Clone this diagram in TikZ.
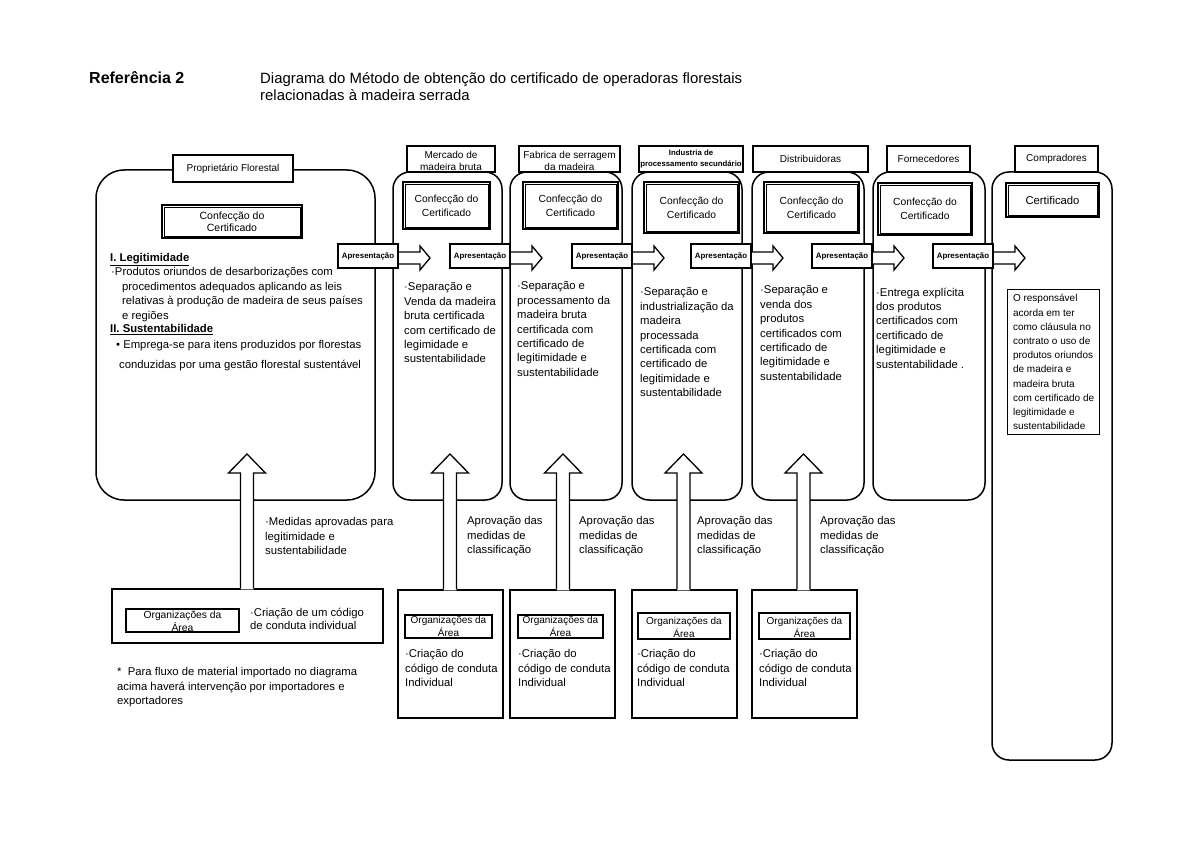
\documentclass[tikz,border=0pt]{standalone}
\usepackage{fontspec}
\setmainfont{Liberation Sans}
\usetikzlibrary{positioning}

\begin{document}
\begin{tikzpicture}[
x=1pt, y=-1pt,
colbox/.style={rectangle, draw, line width=1.5pt, rounded corners=17pt},
tagbox/.style={rectangle, draw, line width=1.1pt, fill=white, inner sep=0pt, minimum height=26pt, align=center, font=\fontsize{10}{12.5}\selectfont},
tagtext/.style={anchor=south, inner sep=0pt, yshift=1.5pt, align=center, font=\fontsize{10}{12.5}\selectfont},
certbox/.style={rectangle, draw, line width=1.8pt, fill=white, inner sep=0pt, align=center, font=\fontsize{10.3}{14}\selectfont},
txt/.style={anchor=north west, inner sep=0pt, align=left, font=\fontsize{11.3}{14.4}\selectfont},
rowtext/.style={anchor=west, inner sep=0pt, text height=8pt, text depth=2.5pt, font=\fontsize{11.3}{14}\selectfont},
lowbox/.style={rectangle, draw, line width=1.1pt},
orgbox/.style={rectangle, draw, line width=1.1pt, inner sep=0pt},
orgtext/.style={anchor=south, inner sep=0pt, yshift=2pt, align=center, font=\fontsize{10}{13}\selectfont},
presbox/.style={rectangle, draw, line width=1.1pt, fill=white, inner sep=0pt, minimum width=60pt, minimum height=24pt, font=\bfseries\fontsize{7.9}{9}\selectfont},
hollow/.style={draw, fill=white, line width=1.3pt, line join=miter}
]

\useasboundingbox (0,0) rectangle (1200,848);

% title
\node[anchor=base west, inner sep=0pt, font=\bfseries\fontsize{16}{19}\selectfont] (ref) at (89,84) {Referência 2};
\node[anchor=base west, inner sep=0pt, font=\fontsize{14.9}{17}\selectfont] (tit1) at (260,84) {Diagrama do Método de obtenção do certificado de operadoras florestais};
\node[anchor=base west, inner sep=0pt, font=\fontsize{14.9}{17}\selectfont] (tit2) at (260,101) {relacionadas à madeira serrada};

% columns
\node[colbox, rounded corners=28pt, minimum width=279pt, minimum height=330pt] (col1) at (235.5,335) {};
\node[colbox, minimum width=109pt, minimum height=328pt] (col2) at (447.5,336) {};
\node[colbox, minimum width=112pt, minimum height=328pt] (col3) at (566,336) {};
\node[colbox, minimum width=110pt, minimum height=328pt] (col4) at (687,336) {};
\node[colbox, minimum width=112pt, minimum height=328pt] (col5) at (808,336) {};
\node[colbox, minimum width=112pt, minimum height=328pt] (col6) at (929,336) {};
\node[colbox, minimum width=120pt, minimum height=588pt] (col7) at (1052,466) {};

% column titles
\node[tagbox, minimum width=120pt, minimum height=27pt] (tag1) at (233,168.5) {Proprietário Florestal};
\node[tagbox, minimum width=88pt] (tag2) at (451,159) {};
\node[tagtext] at (tag2.south) {Mercado de\\madeira bruta};
\node[tagbox, minimum width=101pt] (tag3) at (569.5,159) {};
\node[tagtext] at (tag3.south) {Fabrica de serragem\\da madeira};
\node[tagbox, minimum width=104pt] (tag4) at (691,159) {};
\node[tagtext, font=\bfseries\fontsize{7.8}{11}\selectfont, yshift=3pt] at (tag4.south) {Industria de\\processamento secundário};
\node[tagbox, minimum width=115pt] (tag5) at (810.5,159) {Distribuidoras};
\node[tagbox, minimum width=83pt] (tag6) at (928.5,159) {Fornecedores};
\node[tagbox, minimum width=83pt] (tag7) at (1056.5,159) {Compradores};

% certificates
\node[certbox, minimum width=140pt, minimum height=33pt, font=\fontsize{10.5}{12}\selectfont] (cert1) at (232,221.5) {Confecção do\\Certificado};
\node[certbox, minimum width=87pt, minimum height=47pt] (cert2) at (446.5,205.5) {Confecção do\\Certificado};
\node[certbox, minimum width=95pt, minimum height=47pt] (cert3) at (570.5,205.5) {Confecção do\\Certificado};
\node[certbox, minimum width=95pt, minimum height=51pt] (cert4) at (691.5,207.5) {Confecção do\\Certificado};
\node[certbox, minimum width=95pt, minimum height=51pt] (cert5) at (811.5,207.5) {Confecção do\\Certificado};
\node[certbox, minimum width=94pt, minimum height=52pt] (cert6) at (925,209) {Confecção do\\Certificado};
\node[certbox, minimum width=93pt, minimum height=34pt, font=\fontsize{11.3}{14}\selectfont] (cert7) at (1052.5,200) {Certificado};
\foreach \i in {1,...,7}
  \draw[line width=0.7pt] ([shift={(3,3)}]cert\i.north west) rectangle ([shift={(-3,-3)}]cert\i.south east);

% owner text
\node[rowtext, font=\bfseries\fontsize{11.3}{14}\selectfont] (leg) at (110,259) {\underline{I. Legitimidade}};
\node[rowtext] (leg1) at (111,273) {·Produtos oriundos de desarborizações com};
\node[rowtext] (leg2) at (122,288) {procedimentos adequados aplicando as leis};
\node[rowtext] (leg3) at (122,302) {relativas à produção de madeira de seus países};
\node[rowtext] (leg4) at (122,317) {e regiões};
\node[rowtext, font=\bfseries\fontsize{11.3}{14}\selectfont] (sus) at (110,330) {\underline{II. Sustentabilidade}};
\node[rowtext] (sus1) at (116,346) {• Emprega-se para itens produzidos por florestas};
\node[rowtext] (sus2) at (119,366) {conduzidas por uma gestão florestal sustentável};

% column text
\node[txt] (txt2) at (404,282.5) {·Separação e\\Venda da madeira\\bruta certificada\\com certificado de\\legimidade e\\sustentabilidade};
\node[txt] (txt3) at (517,281.5) {·Separação e\\processamento da\\madeira bruta\\certificada com\\certificado de\\legitimidade e\\sustentabilidade};
\node[txt] (txt4) at (640,287.5) {·Separação e\\industrialização da\\madeira\\processada\\certificada com\\certificado de\\legitimidade e\\sustentabilidade};
\node[txt] (txt5) at (760,285.5) {·Separação e\\venda dos\\produtos\\certificados com\\certificado de\\legitimidade e\\sustentabilidade};
\node[txt] (txt6) at (876,287.5) {·Entrega explícita\\dos produtos\\certificados com\\certificado de\\legitimidade e\\sustentabilidade .};
\node[draw, line width=1.1pt, anchor=north west, inner xsep=5.5pt, inner ysep=5pt, align=left, font=\fontsize{10}{14.2}\selectfont] (resp) at (1007,289) {O responsável\\acorda em ter\\como cláusula no\\contrato o uso de\\produtos oriundos\\de madeira e\\madeira bruta\\com certificado de\\legitimidade e\\sustentabilidade};

% presentation arrows
\foreach \l [count=\i] in {338,450,572,691,812,933}{
  \draw[hollow] (\l+58,252) -- (\l+82,252) -- (\l+82,246) -- (\l+92,258) -- (\l+82,270) -- (\l+82,264) -- (\l+58,264);
  \node[presbox] (pres\i) at (\l+30,256) {Apresentação};
}

% area organisations
\node[lowbox, minimum width=271pt, minimum height=54pt] (low1) at (247.5,616) {};
\node[lowbox, minimum width=105pt, minimum height=128pt] (low2) at (450.5,654) {};
\node[lowbox, minimum width=105pt, minimum height=128pt] (low3) at (562.5,654) {};
\node[lowbox, minimum width=105pt, minimum height=128pt] (low4) at (684.5,654) {};
\node[lowbox, minimum width=105pt, minimum height=128pt] (low5) at (804.5,654) {};

\node[orgbox, minimum width=113pt, minimum height=23pt] (org1) at (182.5,620.5) {};
\node[orgbox, minimum width=87pt, minimum height=23pt] (org2) at (448.5,626.5) {};
\node[orgbox, minimum width=85pt, minimum height=23pt] (org3) at (560.5,626.5) {};
\node[orgbox, minimum width=92pt, minimum height=26pt] (org4) at (684,626) {};
\node[orgbox, minimum width=91pt, minimum height=26pt] (org5) at (804.5,626) {};
\node[orgtext, font=\fontsize{10.3}{13}\selectfont, yshift=-1pt] at (org1.south) {Organizações da\\Área};
\foreach \i in {2,...,5}
  \node[orgtext] at (org\i.south) {Organizações da\\Área};

\node[txt, font=\fontsize{11.3}{13.3}\selectfont] (crt1) at (250,607.5) {·Criação de um código\\de conduta individual};
\node[txt] (crt2) at (405,649.5) {·Criação do\\código de conduta\\Individual};
\node[txt] (crt3) at (518,649.5) {·Criação do\\código de conduta\\Individual};
\node[txt] (crt4) at (637,649.5) {·Criação do\\código de conduta\\Individual};
\node[txt] (crt5) at (759,649.5) {·Criação do\\código de conduta\\Individual};

% approval arrows
\foreach \x [count=\i] in {247,450,563,683.5,803.5}{
  \fill[white] (\x-6.5,0 |- low\i.north) ++(0,0.8) -- (\x-6.5,473) -- (\x-18.5,473) -- (\x,454) -- (\x+18.5,473) -- (\x+6.5,473) -- (\x+6.5,0 |- low\i.north) -- ++(0,0.8) -- cycle;
  \draw[line width=1.3pt, line join=miter] (\x-6.5,0 |- low\i.north) -- (\x-6.5,473) -- (\x-18.5,473) -- (\x,454) -- (\x+18.5,473) -- (\x+6.5,473) -- (\x+6.5,0 |- low\i.north);
}

\node[txt] (med) at (265,517.5) {·Medidas aprovadas para\\legitimidade e\\sustentabilidade};
\foreach \x [count=\i from 2] in {467,579,697,820}
  \node[txt] (apr\i) at (\x,516.5) {Aprovação das\\medidas de\\classificação};

% footnote
\node[txt] (note) at (117,667.5) {*\ \ Para fluxo de material importado no diagrama\\acima haverá intervenção por importadores e\\exportadores};

\end{tikzpicture}
\end{document}
